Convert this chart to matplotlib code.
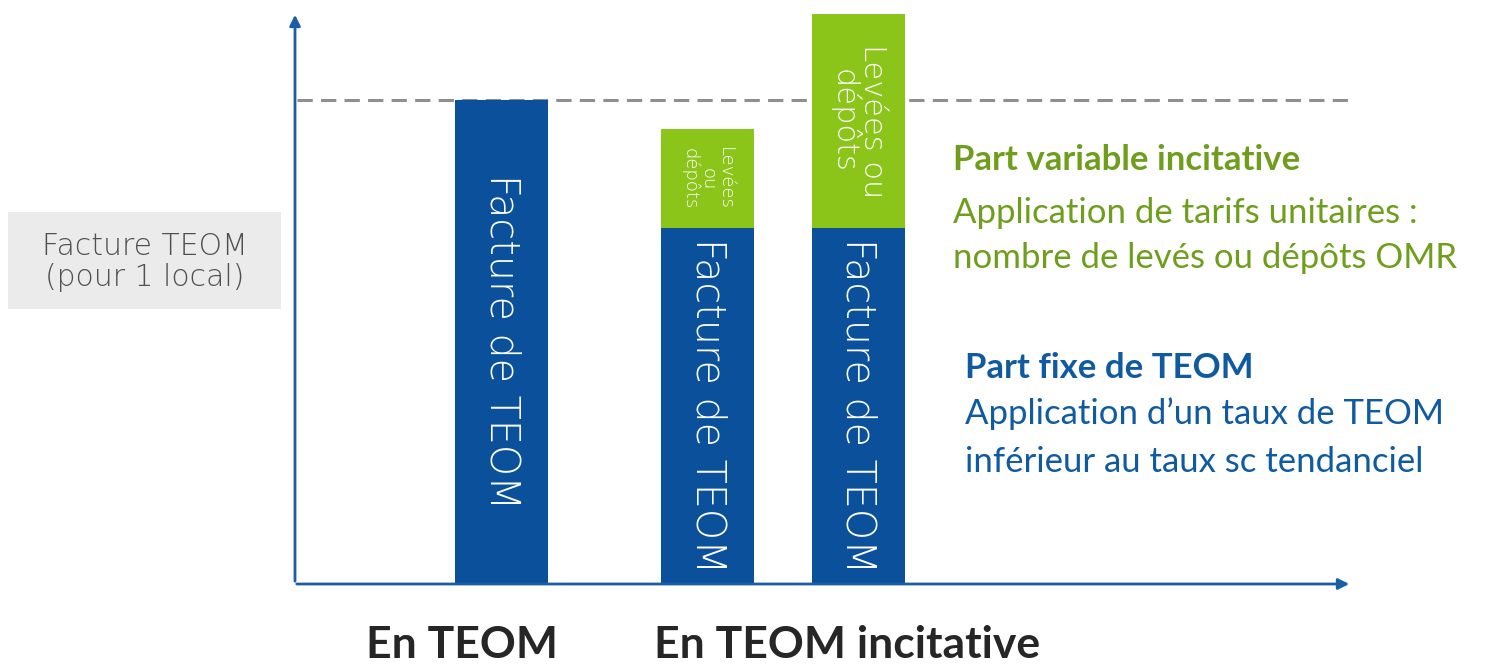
"""Facture TEOM vs TEOM incitative - schematic stacked bars."""

import matplotlib.pyplot as plt
from matplotlib.patches import Rectangle

# data (reference line = 100)
categories = ["En TEOM", "TEOM incitative (a)", "TEOM incitative (b)"]
fixed_part = [100.0, 73.5, 73.5]
variable_part = [0.0, 20.5, 44.2]
reference_level = 100.0

fixed_label = "Facture de TEOM"
variable_labels = ["", "Levées\nou\ndépôts", "Levées ou\ndépôts"]
variable_fontsizes = [0, 13, 22]

group_labels = ["En TEOM", "En TEOM incitative"]
y_label = "Facture TEOM\n(pour 1 local)"
variable_lines = ["Part variable incitative",
                  "Application de tarifs unitaires :",
                  "nombre de levés ou dépôts OMR"]
fixed_lines = ["Part fixe de TEOM",
               "Application d\u2019un taux de TEOM",
               "inférieur au taux sc tendanciel"]

BLUE = "#0b509a"
GREEN = "#8cc51a"
GREEN_TXT = "#6f9e1c"
BLUE_TXT = "#0f5aa0"

# layout (pixel-ish x units along the axis)
bar_x = [206.5, 412.5, 563.0]
bar_w = 93

W, H = 1487, 667
fig = plt.figure(figsize=(W / 100, H / 100), dpi=100)
ax = fig.add_axes([295 / W, (H - 584) / H, (1352 - 295) / W, (584 - 12) / H])
ax.set_xlim(0, 1057)
ax.set_ylim(0, 118.2)
ax.axis("off")

ax.bar(bar_x, fixed_part, width=bar_w, color=BLUE, zorder=2)
ax.bar(bar_x, variable_part, bottom=fixed_part, width=bar_w, color=GREEN, zorder=2)

# reference dashed line
ax.plot([2, 1060], [reference_level, reference_level], color="#8f8f8f", lw=2.2,
        dashes=(5, 2.7), zorder=1, clip_on=False)

# axes arrows
arrow = dict(arrowstyle="-|>", color="#1a5ea8", lw=2, mutation_scale=16)
ax.annotate("", xy=(0, 118.2), xytext=(0, 0), arrowprops=arrow, annotation_clip=False)
ax.annotate("", xy=(1057, 0), xytext=(-1, 0), arrowprops=arrow, annotation_clip=False)

# labels inside bars
for x, f, v, lab, fs in zip(bar_x, fixed_part, variable_part, variable_labels,
                            variable_fontsizes, strict=True):
    ax.text(x, f / 2, fixed_label, rotation=-90, ha="center", va="center",
            color="white", fontsize=28.5, family="DejaVu Sans", fontweight="light",
            zorder=3)
    if v > 0:
        ax.text(x, f + v / 2, lab, rotation=-90, ha="center", va="center",
                color="white", fontsize=fs, family="DejaVu Sans",
                fontweight="light", linespacing=0.95, zorder=3)

# left label box
fig.add_artist(Rectangle((8 / W, 1 - 309 / H), 273 / W, 97 / H,
                         transform=fig.transFigure, fc="#ebebeb", ec="none"))
fig.text(145 / W, 1 - 262 / H, y_label, ha="center", va="center", fontsize=21.5,
         color="#505050", family="DejaVu Sans", fontweight="light", linespacing=1.1)

# right annotations
for i, (txt, y) in enumerate(zip(variable_lines, [160, 213, 258], strict=True)):
    fig.text(953 / W, 1 - y / H, txt, ha="left", va="center", fontsize=25,
             color=GREEN_TXT, family="Lato", fontweight="bold" if i == 0 else "normal")
for i, (txt, y) in enumerate(zip(fixed_lines, [368, 414, 462], strict=True)):
    fig.text(965 / W, 1 - y / H, txt, ha="left", va="center", fontsize=25,
             color=BLUE_TXT, family="Lato", fontweight="bold" if i == 0 else "normal")

# group labels under the axis
fig.text(462 / W, 1 - 645 / H, group_labels[0], ha="center", va="center",
         fontsize=32, color="#262626", family="Lato", fontweight="bold")
fig.text(847 / W, 1 - 645 / H, group_labels[1], ha="center", va="center",
         fontsize=32, color="#262626", family="Lato", fontweight="bold")

fig.savefig("out.png", dpi=100)
